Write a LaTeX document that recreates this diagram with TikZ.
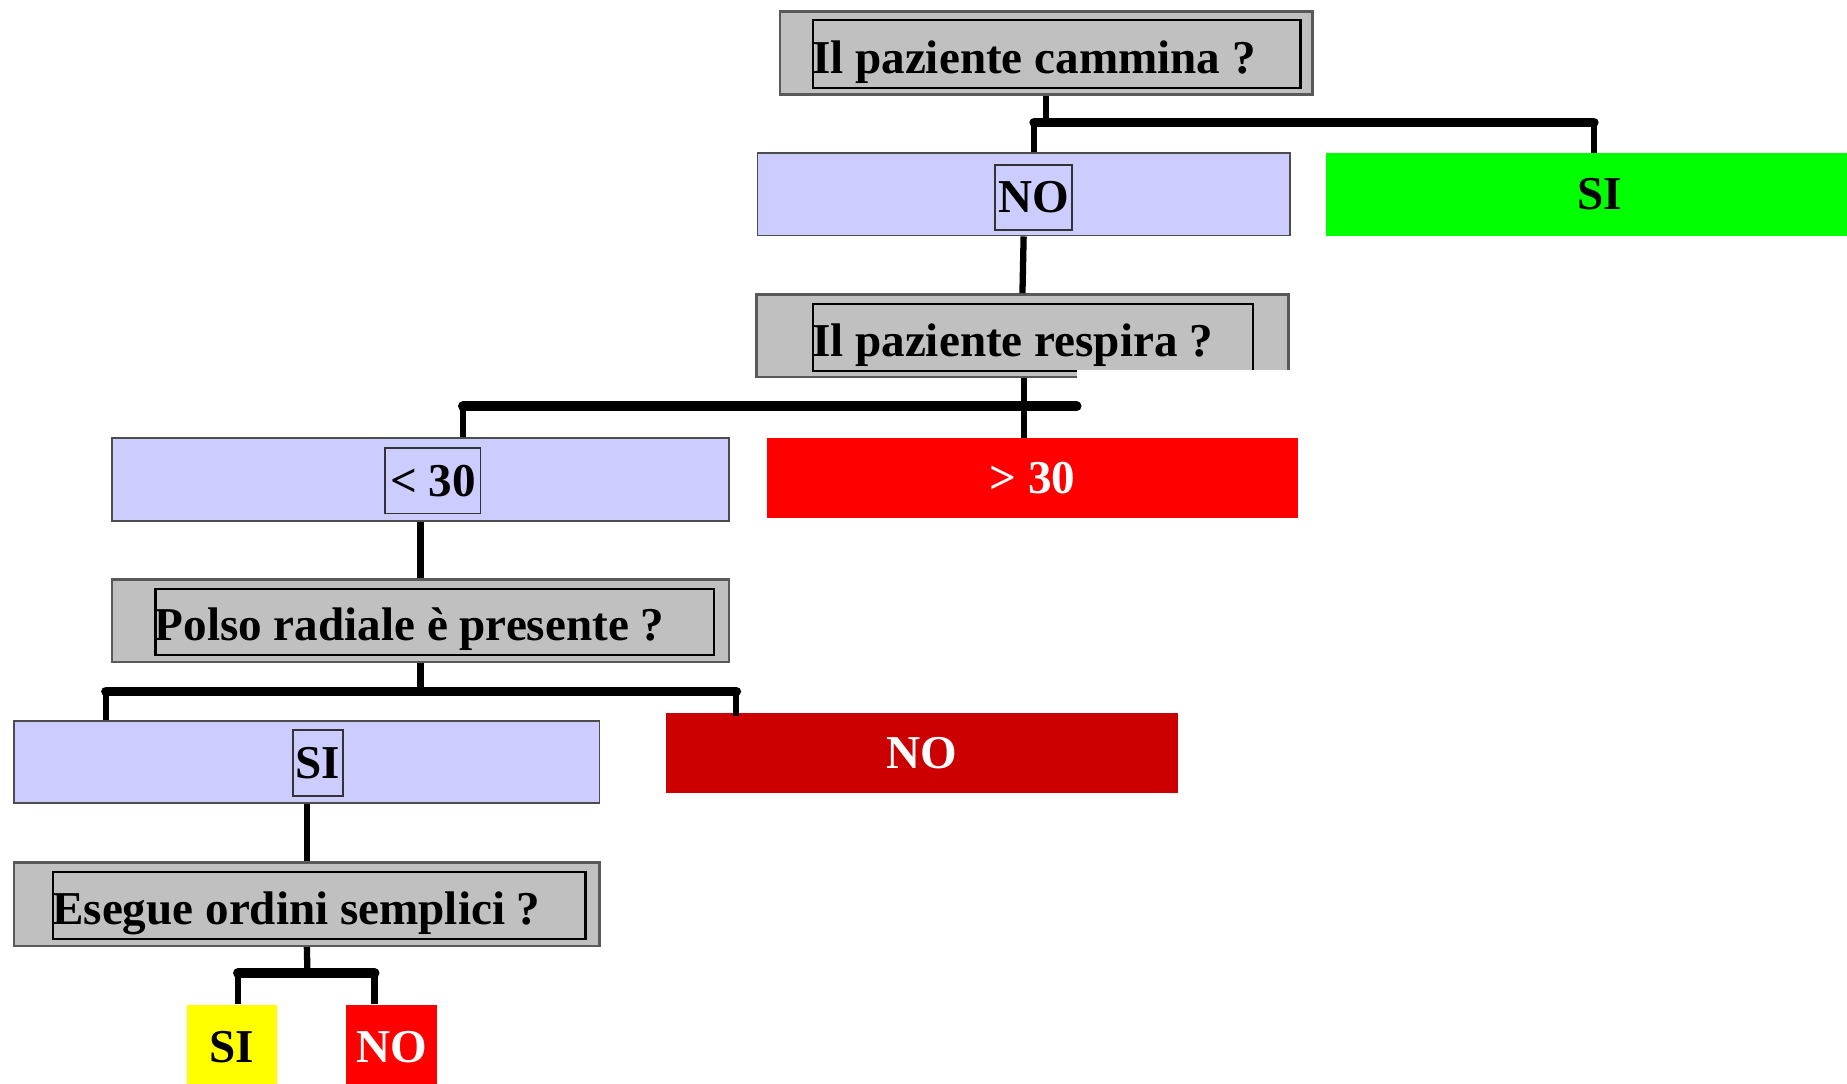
\documentclass[tikz,border=0pt]{standalone}
\usepackage{fontspec}
\setmainfont{Liberation Serif}
\usetikzlibrary{calc}
\usetikzlibrary{fit}
\definecolor{lilla}{RGB}{204,204,255}
\definecolor{grigio}{RGB}{192,192,192}
\definecolor{verde}{RGB}{0,255,0}
\definecolor{rosso}{RGB}{255,0,0}
\definecolor{rossoscuro}{RGB}{204,0,0}
\definecolor{giallo}{RGB}{255,255,0}
\tikzset{every node/.style={inner sep=0pt, % boxes are fitted exactly
           font=\bfseries\fontsize{24}{28}\selectfont},
         domanda/.style={   % grey question box
           draw=black!65, line width=1.3pt, fill=grigio},
         domandain/.style={ % frame round the question text
           draw=black, line width=1.1pt},
         ramo/.style={      % lilac answer box
           draw=black!70, line width=0.9pt, fill=lilla},
         etichetta/.style={draw=black!80, line width=0.9pt},
         esito/.style={fill=#1},
         link/.style={line width=3.2pt, line join=round},
         barra/.style={line width=5pt, line cap=round}}

\begin{document}
\begin{tikzpicture}[x=0.6pt, y=-0.6pt]
  \useasboundingbox (0,0) rectangle (1568,920);

  \node [domanda, fit={(662,10) (1114,80)}] (cammina) {};
  \node [domandain, fit={(690,17) (1104,75)}] (cammina-in) {};
  \node [anchor=base west] (cammina-txt) at ($(cammina-in.west)+(0,16)$) {Il paziente cammina ?};

  \node [ramo, fit={(643,130) (1095,200)}] (no1) {};
  \node [etichetta, fit={(845,140) (910,195)}, label=center:NO] (no1-tag) {};
  \node [esito=verde, fit={(1126,130) (1590,200)}, label={center:SI}] (si1) {};

  \node [domanda, fit={(642,250) (1094,320)}] (respira) {};
  \node [domandain, fit={(690,258) (1064,315)}] (respira-in) {};
  \node [anchor=base west] (respira-txt) at ($(respira-in.west)+(0,16)$) {Il paziente respira ?};
  \fill [white] (914,314) rectangle (1100,324);

  \node [ramo, fit={(95,372) (619,442)}] (meno30) {};
  \node [etichetta, fit={(327,380) (408,436)}, label={center:< 30}] (meno30-tag) {};
  \node [esito=rosso, fit={(651,372) (1102,440)}, label={[text=white]center:> 30}] (piu30) {};

  \node [domanda, fit={(95,492) (619,562)}] (polso) {};
  \node [domandain, fit={(132,500) (606,556)}] (polso-in) {};
  \node [anchor=base west] (polso-txt) at ($(polso-in.west)+(0,16)$) {Polso radiale è presente ?};

  \node [ramo, fit={(12,612) (509,682)}] (si2) {};
  \node [etichetta, fit={(249,620) (291,676)}, label=center:SI] (si2-tag) {};
  \node [esito=rossoscuro, fit={(565,605) (1000,673)}, label={[text=white]center:NO}] (no2) {};

  \node [domanda, fit={(12,732) (509,803)}] (esegue) {};
  \node [domandain, fit={(45,740) (497,797)}] (esegue-in) {};
  \node [anchor=base west] (esegue-txt) at ($(esegue-in.west)+(0,16)$) {Esegue ordini semplici ?};

  \node [esito=giallo, fit={(159,853) (235,925)}, label=center:SI] (si3) {};
  \node [esito=rosso, fit={(294,853) (371,925)}, label={[text=white]center:NO}] (no3) {};

  % branches
  \coordinate (j1) at (888,104);
  \coordinate (j1l) at (878,104);
  \coordinate (j1r) at (1353,104);
  \draw [link] (cammina.south -| j1) -- (j1);
  \draw [link] (j1l |- no1.north) -- (j1l) -- (j1r) -- (j1r |- si1.north);
  \draw [barra] (j1l) -- (j1r);

  \draw [link] (no1.south) -- (respira.north);

  \coordinate (j2) at (869,345);
  \coordinate (j2l) at (393,345);
  \coordinate (j2r) at (914,345);
  \draw [link] (respira.south -| j2) -- (j2 |- piu30.north);
  \draw [link] (j2l |- meno30.north) -- (j2l);
  \draw [barra] (j2l) -- (j2r);

  \draw [link] (meno30.south) -- (polso.north);

  \coordinate (j3) at (357,587);
  \coordinate (j3l) at (90,587);
  \coordinate (j3r) at (625,587);
  \draw [link] (polso.south) -- (j3);
  \draw [link] (j3l |- si2.north) -- (j3l) -- (j3r) -- ($(j3r |- no2.north)+(0,3)$);
  \draw [barra] (j3l) -- (j3r);

  \draw [link] (si2.south) -- (esegue.north);

  \coordinate (j4) at (261,826);
  \coordinate (j4l) at (202,826);
  \coordinate (j4r) at (318,826);
  \draw [link] (esegue.south) -- (j4);
  \draw [link] (j4l |- si3.north) -- (j4l) -- (j4r) -- (j4r |- no3.north);
  \draw [barra] (j4l) -- (j4r);
\end{tikzpicture}
\end{document}
